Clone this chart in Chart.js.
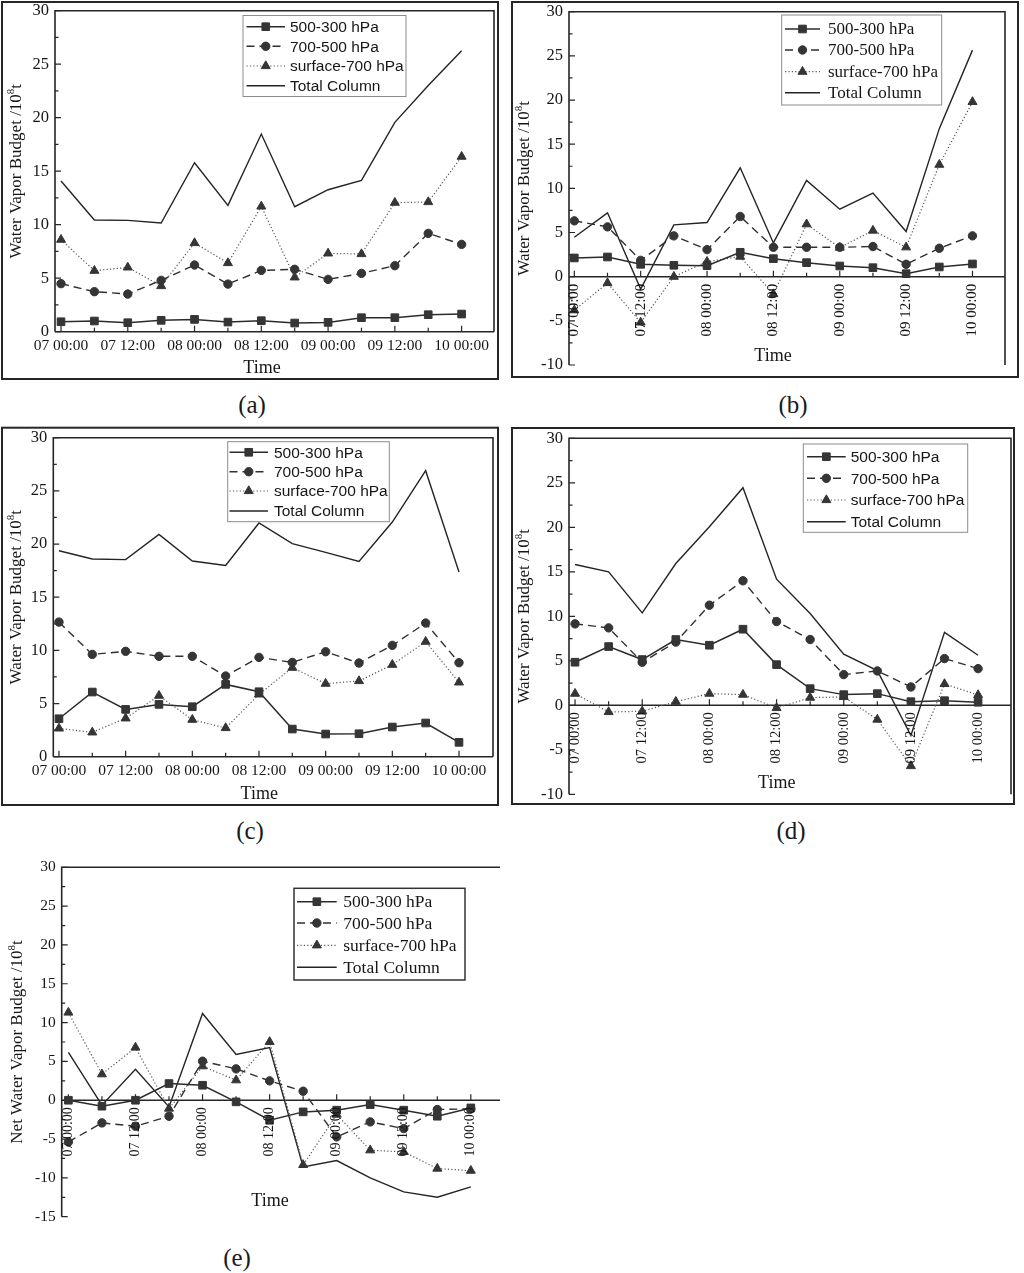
<!DOCTYPE html>
<html>
<head>
<meta charset="utf-8">
<title>Water vapor budget</title>
<script src="https://cdn.jsdelivr.net/npm/chart.js@4.4.1/dist/chart.umd.min.js"></script>
<style>
  html, body { margin: 0; padding: 0; background: #fff; }
  body { position: relative; width: 1024px; height: 1273px; overflow: hidden; }
  canvas { position: absolute; }
  .cap { position: absolute; font: 25px "Liberation Serif", "Times New Roman", serif; color: #1b1b1b;
         transform: translate(-50%, -50%); white-space: nowrap; }
</style>
</head>
<body>
<canvas id="ca"></canvas>
<canvas id="cb"></canvas>
<canvas id="cc"></canvas>
<canvas id="cd"></canvas>
<canvas id="ce"></canvas>
<div class="cap" style="left:252px;top:405px">(a)</div>
<div class="cap" style="left:793px;top:405px">(b)</div>
<div class="cap" style="left:250px;top:831px">(c)</div>
<div class="cap" style="left:791px;top:831px">(d)</div>
<div class="cap" style="left:237px;top:1258px">(e)</div>
<script>
// time axis, 6-hourly, only 00:00 / 12:00 are labelled
const categories = ['07 00:00', '07 06:00', '07 12:00', '07 18:00', '08 00:00', '08 06:00', '08 12:00',
                    '08 18:00', '09 00:00', '09 06:00', '09 12:00', '09 18:00', '10 00:00'];
const seriesNames = ['500-300 hPa', '700-500 hPa', 'surface-700 hPa', 'Total Column'];
const yTicksA = [0, 30];
const yTicksB = [-10, 30];
const yTicksE = [-15, 30];

// (a)
const a_upper = [0.93, 1.0, 0.84, 1.06, 1.15, 0.9, 1.03, 0.81, 0.87, 1.31, 1.31, 1.59, 1.65];
const a_mid   = [4.49, 3.74, 3.52, 4.8, 6.23, 4.45, 5.73, 5.83, 4.89, 5.45, 6.17, 9.19, 8.16];
const a_low   = [8.6, 5.7, 6.01, 4.27, 8.29, 6.42, 11.71, 5.08, 7.32, 7.26, 12.06, 12.12, 16.36];
const a_total = [14.08, 10.44, 10.4, 10.16, 15.79, 11.81, 18.47, 11.68, 13.27, 14.14, 19.57, 23.0, 26.26];
// (b)
const b_upper = [2.12, 2.23, 1.4, 1.29, 1.25, 2.76, 2.04, 1.59, 1.21, 1.02, 0.34, 1.1, 1.44];
const b_mid   = [6.32, 5.64, 1.85, 4.62, 3.06, 6.81, 3.33, 3.33, 3.33, 3.41, 1.4, 3.22, 4.62];
const b_low   = [-3.8, -0.72, -5.18, 0, 1.7, 2.27, -1.97, 5.94, 3.29, 5.22, 3.33, 12.68, 19.79];
const b_total = [4.46, 7.23, -1.4, 5.86, 6.13, 12.33, 3.82, 10.9, 7.64, 9.46, 5.11, 16.76, 25.65];
// (c)
const c_upper = [3.57, 6.08, 4.45, 4.92, 4.7, 6.8, 6.11, 2.6, 2.13, 2.16, 2.79, 3.17, 1.35];
const c_mid   = [12.66, 9.62, 9.91, 9.44, 9.44, 7.59, 9.34, 8.87, 9.87, 8.81, 10.47, 12.57, 8.84];
const c_low   = [2.66, 2.29, 3.61, 5.74, 3.48, 2.7, 5.86, 8.37, 6.87, 7.12, 8.65, 10.82, 6.99];
const c_total = [19.37, 18.59, 18.53, 20.91, 18.4, 17.99, 21.98, 20.03, 19.22, 18.37, 22.07, 26.9, 17.37];
// (d)
const d_upper = [4.84, 6.6, 5.14, 7.39, 6.75, 8.55, 4.57, 1.87, 1.2, 1.31, 0.41, 0.52, 0.34];
const d_mid   = [9.15, 8.7, 4.84, 7.1, 11.25, 13.99, 9.41, 7.39, 3.45, 3.86, 2.06, 5.25, 4.12];
const d_low   = [1.31, -0.75, -0.67, 0.41, 1.31, 1.2, -0.3, 0.86, 0.94, -1.6, -6.82, 2.4, 1.16];
const d_total = [15.82, 15.0, 10.39, 15.93, 20.06, 24.45, 14.17, 10.31, 5.74, 3.9, -3.4, 8.2, 5.62];
// (e) net budget
const e_upper = [0, -0.77, 0, 2.15, 1.93, -0.21, -2.58, -1.5, -1.28, -0.56, -1.28, -2.06, -0.99];
const e_mid   = [-5.37, -2.92, -3.35, -2.06, 5.03, 4.04, 2.49, 1.16, -4.72, -2.79, -3.65, -1.2, -1.1];
const e_low   = [11.3, 3.35, 6.79, -1.07, 4.38, 2.58, 7.52, -8.33, -1.85, -6.44, -6.65, -8.8, -9.07];
const e_total = [6.15, -0.64, 4.0, -0.86, 11.17, 5.89, 6.79, -8.58, -7.77, -10.0, -11.8, -12.5, -11.16];

const ink = '#161616';
const SERIF = '"Liberation Serif", "Times New Roman", serif';
const SANS = '"Liberation Sans", Arial, sans-serif';
const markFill = '#353535';

// line look for each series (same order as seriesNames)
const styles = [
  { color: '#2b2b2b', width: 1.5, dash: [],         marker: 'rect',     r: 5.4 },
  { color: '#303030', width: 1.4, dash: [8, 5],     marker: 'circle',   r: 4.2 },
  { color: '#555555', width: 1.2, dash: [1.2, 2.2], marker: 'triangle', r: 5.2 },
  { color: '#242424', width: 1.4, dash: [],         marker: false,      r: 0 }
];

// page positions of each panel (page px)
const panels = [
  { id: 'ca', series: [a_upper, a_mid, a_low, a_total], range: yTicksA, yFont: 16.5,
    box: [0, 0, 500, 381], frame: [2, 2, 498, 379], area: [55, 10.7, 494, 331.7], xr: [-0.18, 12.97],
    axisAt: 'bottom', rightAxis: true, title: 'Water Vapor Budget /10', titleX: 17, time: [262, 368],
    legend: { box: [243, 15.5, 406, 96.5], rows: [26.7, 46.3, 66, 85.7], s0: 246.5, s1: 285, tx: 290,
              font: '15.5px ' + SANS, border: '#8c8c8c', bw: 1 } },
  { id: 'cb', series: [b_upper, b_mid, b_low, b_total], range: yTicksB, yFont: 16.5,
    box: [510, 0, 510, 380], frame: [512, 2, 1018, 377], area: [569, 11.7, 1005, 365], xr: [-0.16, 12.98],
    axisAt: 'zero', rightAxis: true, rotFont: '15px ' + SERIF, title: 'Water Vapor Budget /10', titleX: 525,
    time: [773, 356],
    legend: { box: [781.7, 15, 941.7, 105], rows: [29, 50, 71.7, 92.7], s0: 785, s1: 820, tx: 828,
              font: '17px ' + SERIF, border: '#8c8c8c', bw: 1 } },
  { id: 'cc', series: [c_upper, c_mid, c_low, c_total], range: yTicksA, yFont: 16.5,
    box: [0, 425, 500, 383], frame: [2, 427.7, 498, 805], area: [53.3, 437.7, 493, 756.7], xr: [-0.17, 13.02],
    axisAt: 'bottom', rightAxis: true, title: 'Water Vapor Budget /10', titleX: 16.7, time: [259.3, 794.3],
    legend: { box: [227.7, 441.7, 389.3, 521.7], rows: [452.3, 471.7, 491, 511], s0: 229.5, s1: 268, tx: 274,
              font: '15.5px ' + SANS, border: '#8c8c8c', bw: 1 } },
  { id: 'cd', series: [d_upper, d_mid, d_low, d_total], range: yTicksB, yFont: 16.5,
    box: [510, 425, 506, 382], frame: [512, 428, 1014, 804], area: [569, 438.3, 1011, 794.3], xr: [-0.18, 12.98],
    axisAt: 'zero', rightAxis: true, rotFont: '14.5px ' + SERIF, title: 'Water Vapor Budget /10', titleX: 525,
    time: [776.7, 783.3],
    legend: { box: [803.3, 444, 967.7, 532.3], rows: [456.7, 478.3, 500, 521.7], s0: 807, s1: 845.7, tx: 850.7,
              font: '15.5px ' + SANS, border: '#8c8c8c', bw: 1 } },
  { id: 'ce', series: [e_upper, e_mid, e_low, e_total], range: yTicksE, yFont: 15.5,
    box: [0, 850, 506, 390], frame: null, area: [61.7, 867.3, 500, 1216.7], xr: [-0.2, 12.87],
    axisAt: 'zero', rightAxis: false, rotFont: '14px ' + SERIF, title: 'Net Water Vapor Budget /10', titleX: 18,
    time: [270, 1201.7],
    legend: { box: [294, 888.3, 465, 980], rows: [901.7, 923, 945.3, 967.3], s0: 297, s1: 336.7, tx: 343.3,
              font: '17.5px ' + SERIF, border: '#333333', bw: 1.5 } }
];

function drawMarker(ctx, kind, r, x, y) {
  ctx.beginPath();
  if (kind === 'rect') {
    const s = r * Math.SQRT1_2;
    ctx.rect(x - s, y - s, 2 * s, 2 * s);
  } else if (kind === 'circle') {
    ctx.arc(x, y, r, 0, Math.PI * 2);
  } else if (kind === 'triangle') {
    ctx.moveTo(x, y - r);
    ctx.lineTo(x + 0.866 * r, y + 0.5 * r);
    ctx.lineTo(x - 0.866 * r, y + 0.5 * r);
    ctx.closePath();
  }
  ctx.fill();
  ctx.stroke();
}

function makePanelPlugin(p) {
  const ox = p.box[0], oy = p.box[1];
  return {
    id: 'panel_' + p.id,
    beforeDatasetsDraw(chart) {
      const ctx = chart.ctx, a = chart.chartArea;
      const xs = chart.scales.x, ys = chart.scales.y;
      ctx.save();
      ctx.strokeStyle = '#262626';
      if (p.frame) {
        ctx.lineWidth = 2;
        ctx.strokeRect(p.frame[0] - ox, p.frame[1] - oy, p.frame[2] - p.frame[0], p.frame[3] - p.frame[1]);
      }
      ctx.lineWidth = 1.6;
      ctx.beginPath();
      ctx.moveTo(a.left, a.bottom);
      ctx.lineTo(a.left, a.top);
      ctx.lineTo(a.right, a.top);
      if (p.rightAxis) ctx.lineTo(a.right, a.bottom);
      const baseY = p.axisAt === 'bottom' ? a.bottom : ys.getPixelForValue(0);
      ctx.moveTo(a.left, baseY);
      ctx.lineTo(a.right, baseY);
      ctx.stroke();

      // inward tick marks
      ctx.lineWidth = 1.2;
      ctx.beginPath();
      categories.forEach((c, i) => {
        const x = xs.getPixelForValue(i);
        ctx.moveTo(x, baseY);
        ctx.lineTo(x, baseY - (i % 2 === 0 ? 6 : 4));
      });
      for (let v = ys.min; v <= ys.max; v += 2.5) {
        const y = ys.getPixelForValue(v);
        ctx.moveTo(a.left, y);
        ctx.lineTo(a.left + (v % 5 === 0 ? 6 : 3.5), y);
      }
      ctx.stroke();
      ctx.restore();
    },
    afterDraw(chart) {
      const ctx = chart.ctx, a = chart.chartArea;
      const xs = chart.scales.x, ys = chart.scales.y;
      ctx.save();
      ctx.fillStyle = ink;

      // vertical time labels hanging under the zero line
      if (p.axisAt === 'zero') {
        const y0 = ys.getPixelForValue(0);
        ctx.font = p.rotFont;
        ctx.textAlign = 'right';
        ctx.textBaseline = 'middle';
        categories.forEach((c, i) => {
          if (i % 2) return;
          ctx.save();
          ctx.translate(xs.getPixelForValue(i), y0 + 7);
          ctx.rotate(-Math.PI / 2);
          ctx.fillText(c, 0, 0);
          ctx.restore();
        });
      }

      ctx.font = '18px ' + SERIF;
      ctx.textAlign = 'center';
      ctx.textBaseline = 'middle';
      ctx.fillText('Time', p.time[0] - ox, p.time[1] - oy);

      // y title with superscript 8
      ctx.save();
      ctx.translate(p.titleX - ox, (a.top + a.bottom) / 2);
      ctx.rotate(-Math.PI / 2);
      ctx.textAlign = 'left';
      ctx.textBaseline = 'middle';
      const big = '17px ' + SERIF, small = '11px ' + SERIF;
      ctx.font = big;
      const w1 = ctx.measureText(p.title).width, w3 = ctx.measureText('t').width;
      ctx.font = small;
      const w2 = ctx.measureText('8').width;
      let x = -(w1 + w2 + w3) / 2;
      ctx.font = big;
      ctx.fillText(p.title, x, 0);
      x += w1;
      ctx.font = small;
      ctx.fillText('8', x, -5.5);
      x += w2;
      ctx.font = big;
      ctx.fillText('t', x, 0);
      ctx.restore();

      // legend
      const L = p.legend;
      const bx = L.box[0] - ox, by = L.box[1] - oy, bw = L.box[2] - L.box[0], bh = L.box[3] - L.box[1];
      ctx.fillStyle = '#fff';
      ctx.fillRect(bx, by, bw, bh);
      ctx.strokeStyle = L.border;
      ctx.lineWidth = L.bw;
      ctx.strokeRect(bx, by, bw, bh);
      seriesNames.forEach((name, k) => {
        const st = styles[k], y = L.rows[k] - oy;
        ctx.strokeStyle = st.color;
        ctx.lineWidth = st.width;
        ctx.setLineDash(st.dash);
        ctx.beginPath();
        ctx.moveTo(L.s0 - ox, y);
        ctx.lineTo(L.s1 - ox, y);
        ctx.stroke();
        ctx.setLineDash([]);
        if (st.marker) {
          ctx.fillStyle = markFill;
          ctx.strokeStyle = markFill;
          ctx.lineWidth = 1;
          drawMarker(ctx, st.marker, st.r, (L.s0 + L.s1) / 2 - ox, y);
        }
        ctx.fillStyle = ink;
        ctx.font = L.font;
        ctx.textAlign = 'left';
        ctx.textBaseline = 'middle';
        ctx.fillText(name, L.tx - ox, y + 1);
      });
      ctx.restore();
    }
  };
}

panels.forEach(p => {
  const canvas = document.getElementById(p.id);
  const [bx, by, bw, bh] = p.box;
  canvas.width = bw;
  canvas.height = bh;
  canvas.style.left = bx + 'px';
  canvas.style.top = by + 'px';
  canvas.style.width = bw + 'px';
  canvas.style.height = bh + 'px';
  // the axes own the space left of / under the plot so their labels are not clipped
  const yAxisW = p.area[0] - bx;
  const xAxisH = by + bh - p.area[3];

  new Chart(canvas, {
    type: 'line',
    data: {
      datasets: seriesNames.map((name, k) => ({
        label: name,
        data: p.series[k].map((v, i) => ({ x: i, y: v })),
        borderColor: styles[k].color,
        borderWidth: styles[k].width,
        borderDash: styles[k].dash,
        pointStyle: styles[k].marker || 'circle',
        pointRadius: styles[k].r,
        pointBackgroundColor: markFill,
        pointBorderColor: markFill,
        pointBorderWidth: 1,
        tension: 0,
        fill: false,
        clip: false
      }))
    },
    options: {
      responsive: false,
      maintainAspectRatio: false,
      animation: false,
      events: [],
      layout: {
        autoPadding: false,
        padding: {
          left: 0,
          top: p.area[1] - by,
          right: bx + bw - p.area[2],
          bottom: 0
        }
      },
      plugins: { legend: { display: false }, tooltip: { enabled: false } },
      scales: {
        x: {
          type: 'linear',
          position: 'bottom',
          min: p.xr[0],
          max: p.xr[1],
          grid: { display: false, drawTicks: false },
          border: { display: false },
          afterBuildTicks: s => { s.ticks = categories.map((c, i) => ({ value: i })); },
          afterFit: s => { s.height = xAxisH; s.paddingLeft = 0; s.paddingRight = 0; },
          ticks: {
            display: p.axisAt === 'bottom',
            autoSkip: false,
            maxRotation: 0,
            minRotation: 0,
            padding: 5,
            color: ink,
            font: { family: SERIF, size: 15.5 },
            callback: v => (Number.isInteger(v) && v % 2 === 0 ? categories[v] : '')
          }
        },
        y: {
          type: 'linear',
          min: p.range[0],
          max: p.range[1],
          grid: { display: false, drawTicks: false },
          border: { display: false },
          afterFit: s => { s.width = yAxisW; s.paddingTop = 0; s.paddingBottom = 0; },
          ticks: {
            stepSize: 5,
            padding: 6,
            color: ink,
            font: { family: SERIF, size: p.yFont }
          }
        }
      }
    },
    plugins: [makePanelPlugin(p)]
  });
});
</script>
</body>
</html>
